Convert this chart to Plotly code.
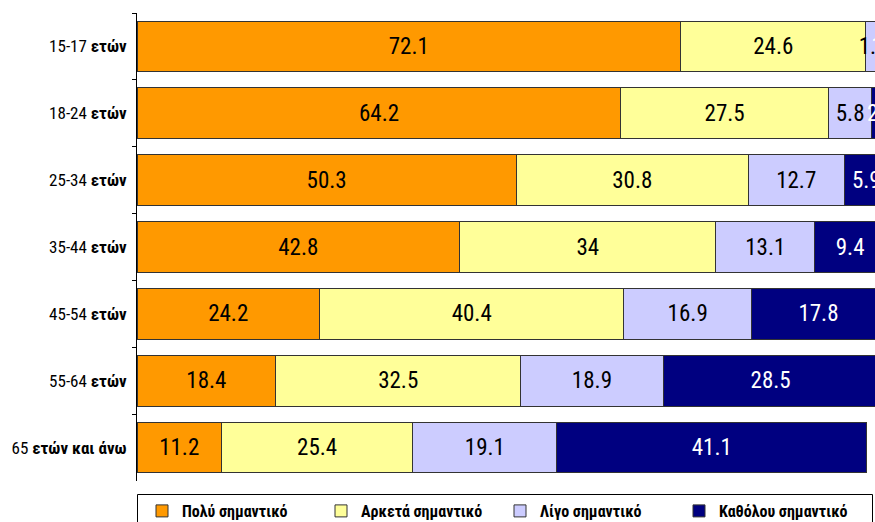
import plotly.graph_objects as go

# Age groups (top to bottom) and share of answers per importance level (%)
age_groups = [
    "15-17 <b>ετών</b>",
    "18-24 <b>ετών</b>",
    "25-34 <b>ετών</b>",
    "35-44 <b>ετών</b>",
    "45-54 <b>ετών</b>",
    "55-64 <b>ετών</b>",
    "65 <b>ετών και άνω</b>",
]
poly = [72.1, 64.2, 50.3, 42.8, 24.2, 18.4, 11.2]
arketa = [24.6, 27.5, 30.8, 34, 40.4, 32.5, 25.4]
ligo = [1.9, 5.8, 12.7, 13.1, 16.9, 18.9, 19.1]
katholou = [1.4, 2.5, 5.9, 9.4, 17.8, 28.5, 41.1]

series_names = ["Πολύ σημαντικό", "Αρκετά σημαντικό", "Λίγο σημαντικό", "Καθόλου σημαντικό"]
series_values = [poly, arketa, ligo, katholou]
fill_colors = ["#FF9900", "#FFFF99", "#CCCCFF", "#000080"]
text_colors = ["#000000", "#000000", "#000000", "#FFFFFF"]

NARROW = "Roboto Condensed, DejaVu Sans Condensed, sans-serif"

fig = go.Figure()
for name, vals, fc, tc in zip(series_names, series_values, fill_colors, text_colors):
    fig.add_trace(go.Bar(
        y=age_groups,
        x=vals,
        name=name,
        orientation="h",
        width=0.76,
        marker=dict(color=fc, line=dict(color="#333333", width=1)),
        text=[f"{v:g}" for v in vals],
        textposition="inside",
        insidetextanchor="middle",
        constraintext="none",
        textangle=0,
        insidetextfont=dict(family=NARROW, size=23, color=tc),
    ))

W, H = 875, 522
L, R, T, B = 137, 0, 13, 41
pw, ph = W - L - R, H - T - B

def px_to_paper_x(px):
    return (px - L) / pw

def px_to_paper_y(py):
    return (H - B - py) / ph

fig.update_layout(
    width=W,
    height=H,
    barmode="stack",
    margin=dict(l=L, r=R, t=T, b=B, autoexpand=False),
    paper_bgcolor="white",
    plot_bgcolor="white",
    showlegend=True,
    legend=dict(
        orientation="h",
        x=px_to_paper_x(142),
        xanchor="left",
        y=px_to_paper_y(494),
        yanchor="top",
        font=dict(family=NARROW, size=16, color="#000000", weight="bold"),
        bgcolor="rgba(0,0,0,0)",
        borderwidth=0,
        entrywidth=134,
        traceorder="normal",
        itemclick=False,
    ),
    xaxis=dict(
        range=[0, 97.9],
        visible=False,
        showgrid=False,
        zeroline=False,
        fixedrange=True,
    ),
    yaxis=dict(
        autorange="reversed",
        showline=True,
        linecolor="#000000",
        linewidth=1,
        ticks="outside",
        tickson="boundaries",
        ticklen=4,
        tickcolor="#000000",
        ticklabelstandoff=6,
        showgrid=False,
        tickfont=dict(family=NARROW, size=17, color="#000000"),
        fixedrange=True,
    ),
    shapes=[
        dict(
            type="rect",
            xref="paper",
            yref="paper",
            x0=px_to_paper_x(137.5),
            x1=px_to_paper_x(872.5),
            y0=px_to_paper_y(494.5),
            y1=px_to_paper_y(H + 20),
            line=dict(color="#000000", width=1),
            fillcolor="rgba(0,0,0,0)",
            layer="below",
        )
    ],
)

fig.write_html("out.html")
